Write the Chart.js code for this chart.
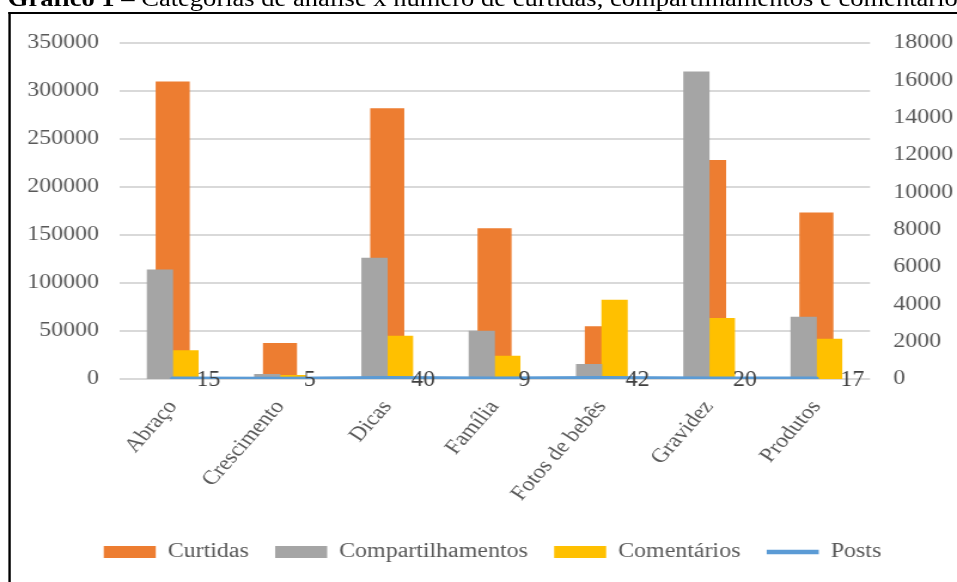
<!DOCTYPE html>
<html lang="pt-BR">
<head>
<meta charset="utf-8">
<script src="https://cdn.jsdelivr.net/npm/chart.js@4.4.0/dist/chart.umd.min.js"></script>
<style>
  html, body { margin: 0; padding: 0; background: #fff; overflow: hidden; }
  /* o quadro é desenhado em 800px e esticado na horizontal até 957px */
  #quadro { position: relative; width: 800px; height: 582px; transform-origin: 0 0; transform: scaleX(1.19625); }
  #titulo { position: absolute; left: 6.5px; top: -12px; font: 22.2px/22px "Liberation Serif", serif; color: #000; white-space: nowrap; }
  #borda { position: absolute; left: 6.5px; top: 12px; right: -10px; bottom: -10px; border-left: 2px solid #000; border-top: 2px solid #000; }
  #area { position: absolute; left: 0; top: 0; width: 800px; height: 582px; }
</style>
</head>
<body>
<div id="quadro">
  <div id="titulo"><b>Gráfico 1</b> – Categorias de análise x número de curtidas, compartilhamentos e comentários</div>
  <div id="borda"></div>
  <div id="area"><canvas id="graficoCategorias"></canvas></div>
</div>
<script>
var categorias = ['Abraço', 'Crescimento', 'Dicas', 'Família', 'Fotos de bebês', 'Gravidez', 'Produtos'];
var curtidas = [310000, 37500, 282000, 157000, 55000, 228000, 173500];
var compartilhamentos = [5850, 250, 6480, 2570, 790, 16460, 3320];
var comentarios = [1520, 200, 2300, 1230, 4230, 3250, 2140];
var posts = [15, 5, 40, 9, 42, 20, 17];

var fonteTexto = '"Liberation Serif", "Times New Roman", serif';

// escreve o número de posts à direita de cada ponto da linha
const rotulosPosts = {
    id: 'rotulosPosts',
    afterDatasetsDraw(chart) {
        const meta = chart.getDatasetMeta(3);
        const ctx = chart.ctx;
        ctx.save();
        ctx.fillStyle = '#404040';
        ctx.font = '24px ' + fonteTexto;
        ctx.textBaseline = 'middle';
        ctx.textAlign = 'left';
        meta.data.forEach(function(ponto, i) {
            ctx.save();
            ctx.translate(ponto.x + 20, ponto.y + 1);
            ctx.scale(0.83, 1);
            ctx.fillText(String(posts[i]), 0, 0);
            ctx.restore();
        });
        ctx.restore();
    }
};

function semMilhar(valor) {
    return String(valor);
}

function MontaGrafico() {
    const campo = document.getElementById('graficoCategorias');
    new Chart(campo, {
        data: {
            labels: categorias,
            datasets: [
                {
                    type: 'bar',
                    label: 'Curtidas',
                    data: curtidas,
                    yAxisID: 'y',
                    backgroundColor: '#ED7D31',
                    borderWidth: 0,
                    grouped: false,
                    barPercentage: 1,
                    maxBarThickness: 28.5,
                    pointStyle: 'rect',
                    order: 2
                },
                {
                    type: 'bar',
                    label: 'Compartilhamentos',
                    data: compartilhamentos,
                    yAxisID: 'y2',
                    backgroundColor: '#A5A5A5',
                    borderWidth: 0,
                    barThickness: 21.3,
                    pointStyle: 'rect',
                    order: 1
                },
                {
                    type: 'bar',
                    label: 'Comentários',
                    data: comentarios,
                    yAxisID: 'y2',
                    backgroundColor: '#FFC000',
                    borderWidth: 0,
                    barThickness: 21.3,
                    pointStyle: 'rect',
                    order: 1
                },
                {
                    type: 'line',
                    label: 'Posts',
                    data: posts,
                    yAxisID: 'y2',
                    borderColor: '#5B9BD5',
                    backgroundColor: '#5B9BD5',
                    borderWidth: 4.5,
                    borderCapStyle: 'round',
                    pointRadius: 0,
                    pointStyle: 'line',
                    tension: 0,
                    order: 0
                }
            ]
        },
        options: {
            responsive: true,
            maintainAspectRatio: false,
            animation: false,
            layout: { padding: { left: 23.4, right: 0, top: 43, bottom: 10 } },
            scales: {
                x: {
                    grid: { display: false },
                    border: { display: false },
                    ticks: {
                        color: '#595959',
                        font: { family: fonteTexto, size: 20 },
                        minRotation: 53,
                        maxRotation: 53,
                        autoSkip: false,
                        padding: 9
                    },
                    afterFit: function(escala) { escala.height = 141; }
                },
                y: {
                    position: 'left',
                    min: 0,
                    max: 350000,
                    grid: { color: '#D9D9D9', lineWidth: 2, drawTicks: false },
                    border: { display: false },
                    ticks: {
                        stepSize: 50000,
                        color: '#595959',
                        font: { family: fonteTexto, size: 20 },
                        padding: 16.7,
                        callback: semMilhar
                    },
                    afterFit: function(escala) { escala.width = 76.1; }
                },
                y2: {
                    position: 'right',
                    min: 0,
                    max: 18000,
                    grid: { display: false, drawTicks: false },
                    border: { display: false },
                    ticks: {
                        stepSize: 2000,
                        color: '#595959',
                        font: { family: fonteTexto, size: 20 },
                        padding: 19.4,
                        callback: semMilhar
                    },
                    afterFit: function(escala) { escala.width = 72.7; }
                }
            },
            plugins: {
                tooltip: { enabled: false },
                legend: {
                    position: 'bottom',
                    labels: {
                        usePointStyle: true,
                        pointStyleWidth: 43.5,
                        boxHeight: 12,
                        padding: 22,
                        color: '#595959',
                        font: { family: fonteTexto, size: 20 },
                        sort: function(a, b) { return a.datasetIndex - b.datasetIndex; }
                    }
                }
            }
        },
        plugins: [rotulosPosts]
    });
}

MontaGrafico();
</script>
</body>
</html>
